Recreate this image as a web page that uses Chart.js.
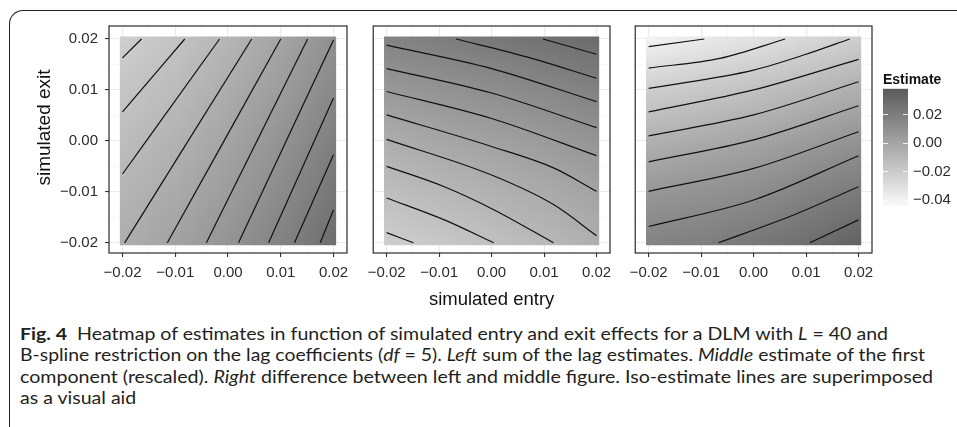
<!DOCTYPE html>
<html>
<head>
<meta charset="utf-8">
<script src="https://cdn.jsdelivr.net/npm/chart.js@4.4.1/dist/chart.umd.min.js"></script>
<style>
  body { margin: 0; background: #fff; width: 957px; height: 427px; overflow: hidden; position: relative; }
  canvas { position: absolute; }
  #frame { position: absolute; left: 9px; top: 10px; width: 1000px; height: 500px;
           border-top: 1.4px solid #231f20; border-left: 1.4px solid #231f20; border-top-left-radius: 14px; }
  .cap { position: absolute; left: 20px; font-family: Lato, "Noto Sans", sans-serif; font-size: 17.5px;
         line-height: 20px; color: #231f20; white-space: nowrap; transform-origin: 0 50%; }
</style>
</head>
<body>
<div id="frame"></div>
<canvas id="sumPanel" width="357" height="320" style="left:0;top:0"></canvas>
<canvas id="firstPanel" width="260" height="320" style="left:360px;top:0"></canvas>
<canvas id="diffPanel" width="260" height="320" style="left:622px;top:0"></canvas>
<canvas id="legendBar" width="74" height="159" style="left:883px;top:61px"></canvas>

<div class="cap" data-end="888" style="top:324px"><b>Fig. 4</b>&nbsp; Heatmap of estimates in function of simulated entry and exit effects for a DLM with <i>L</i> = 40 and</div>
<div class="cap" data-end="925" style="top:345px">B-spline restriction on the lag coefficients (<i>df</i> = 5). <i>Left</i> sum of the lag estimates. <i>Middle</i> estimate of the first</div>
<div class="cap" data-end="933" style="top:367px">component (rescaled). <i>Right</i> difference between left and middle figure. Iso-estimate lines are superimposed</div>
<div class="cap" style="top:388px">as a visual aid</div>

<script>
// grid of simulated entry (x) and exit (y) values the estimates are read at
const entryGrid = [-0.02, -0.01, 0, 0.01, 0.02];
const exitGrid = [0.02, 0.01, 0, -0.01, -0.02]; // top row first
const tileEdge = 0.0205;

const axisTicks = [-0.02, -0.01, 0, 0.01, 0.02];
const minorTicks = [-0.015, -0.005, 0.005, 0.015];
const legendTicks = [-0.04, -0.02, 0, 0.02];
const fillRange = [-0.0443, 0.038];

// estimates, one row per exit value (read off the grey levels / iso lines)
const sumLag = [
    [-0.0217, -0.0160, -0.0087, 0.0000, 0.0100],
    [-0.0170, -0.0118, -0.0044, 0.0043, 0.0143],
    [-0.0127, -0.0075, -0.0002, 0.0087, 0.0188],
    [-0.0087, -0.0033, 0.0041, 0.0130, 0.0234],
    [-0.0050, 0.0010, 0.0084, 0.0173, 0.0276]
];
const firstComp = [
    [0.0163, 0.0191, 0.0220, 0.0250, 0.0282],
    [0.0053, 0.0083, 0.0107, 0.0137, 0.0175],
    [-0.0053, -0.0017, 0.0010, 0.0041, 0.0076],
    [-0.0140, -0.0108, -0.0075, -0.0036, -0.0001],
    [-0.0215, -0.0184, -0.0151, -0.0108, -0.0058]
];
const diffEst = [
    [-0.0400, -0.0358, -0.0312, -0.0262, -0.0210],
    [-0.0210, -0.0180, -0.0145, -0.0097, -0.0051],
    [-0.0061, -0.0032, -0.0003, 0.0048, 0.0092],
    [0.0066, 0.0090, 0.0117, 0.0167, 0.0216],
    [0.0167, 0.0192, 0.0232, 0.0272, 0.0335]
];

// iso-estimate lines, [entry, exit] pairs
const sumLagLines = [
    [[-0.02, 0.0163], [-0.0164, 0.02]],
    [[-0.02, 0.0057], [-0.0082, 0.02]],
    [[-0.02, -0.0065], [-0.0016, 0.02]],
    [[-0.0196, -0.02], [0.0045, 0.02]],
    [[-0.0115, -0.02], [0.0100, 0.02]],
    [[-0.0041, -0.02], [0.0151, 0.02]],
    [[0.0020, -0.02], [0.0200, 0.0198]],
    [[0.0077, -0.02], [0.02, 0.0084]],
    [[0.0126, -0.02], [0.02, -0.0027]],
    [[0.0175, -0.02], [0.02, -0.0135]]
];
const firstCompLines = [
    [[0.0098, 0.02], [0.02, 0.0170]],
    [[-0.0068, 0.02], [0.0067, 0.0165], [0.02, 0.0123]],
    [[-0.02, 0.0188], [0, 0.0142], [0.02, 0.0077]],
    [[-0.02, 0.0142], [0, 0.0094], [0.02, 0.0026]],
    [[-0.02, 0.0097], [0, 0.0044], [0.02, -0.0029]],
    [[-0.02, 0.0051], [0, -0.0011], [0.0118, -0.0053], [0.02, -0.0099]],
    [[-0.02, 0.0003], [0, -0.0067], [0.0118, -0.0125], [0.02, -0.0186]],
    [[-0.02, -0.0050], [-0.009, -0.0090], [0.0004, -0.0135], [0.0118, -0.02]],
    [[-0.02, -0.0112], [-0.009, -0.0155], [0.0004, -0.02]],
    [[-0.02, -0.0180], [-0.0149, -0.02]]
];
const diffLines = [
    [[-0.02, 0.0185], [-0.0094, 0.02]],
    [[-0.02, 0.0143], [-0.0064, 0.0162], [0.006, 0.02]],
    [[-0.02, 0.0103], [0, 0.0139], [0.01, 0.0170], [0.0183, 0.02]],
    [[-0.02, 0.0057], [0, 0.0100], [0.02, 0.0160]],
    [[-0.02, 0.0010], [0, 0.0051], [0.02, 0.0116]],
    [[-0.02, -0.0041], [0, 0.0002], [0.02, 0.0069]],
    [[-0.02, -0.0099], [0, -0.0054], [0.02, 0.0018]],
    [[-0.02, -0.0168], [0, -0.0116], [0.02, -0.0029]],
    [[-0.0067, -0.02], [0.007, -0.0148], [0.02, -0.0090]],
    [[0.0107, -0.02], [0.02, -0.0155]]
];

const family = "'Liberation Sans', Arial, sans-serif";
Chart.defaults.font.family = family;

function greyLevel(v) {
    let t = (v - fillRange[0]) / (fillRange[1] - fillRange[0]);
    t = Math.max(0, Math.min(1, t));
    return Math.round(250 - t * (250 - 90));
}
function greyFor(v) {
    const g = greyLevel(v);
    return `rgb(${g},${g},${g})`;
}
const isMajor = v => axisTicks.some(t => Math.abs(t - v) < 1e-9);
const fmt = v => v.toFixed(2).replace('-', '\u2212');
const allTicks = axisTicks.concat(minorTicks).sort((a, b) => a - b);

// paints the estimate grid as smooth tiles behind the iso lines
const heatmap = {
    id: 'heatmap',
    beforeDatasetsDraw(chart, args, opts) {
        const grid = opts.grid;
        if (!grid) return;
        const { ctx, scales: { x, y } } = chart;
        const rows = grid.length, cols = grid[0].length;
        const off = document.createElement('canvas');
        off.width = cols; off.height = rows;
        const octx = off.getContext('2d');
        const img = octx.createImageData(cols, rows);
        grid.forEach((row, r) => row.forEach((v, c) => {
            const i = (r * cols + c) * 4, g = greyLevel(v);
            img.data[i] = img.data[i + 1] = img.data[i + 2] = g;
            img.data[i + 3] = 255;
        }));
        octx.putImageData(img, 0, 0);
        const half = (entryGrid[1] - entryGrid[0]) / 2;
        const x0 = x.getPixelForValue(entryGrid[0] - half), x1 = x.getPixelForValue(entryGrid[cols - 1] + half);
        const y0 = y.getPixelForValue(exitGrid[0] + half), y1 = y.getPixelForValue(exitGrid[rows - 1] - half);
        const cx0 = x.getPixelForValue(-tileEdge), cx1 = x.getPixelForValue(tileEdge);
        const cy0 = y.getPixelForValue(tileEdge), cy1 = y.getPixelForValue(-tileEdge);
        ctx.save();
        ctx.beginPath();
        ctx.rect(cx0, cy0, cx1 - cx0, cy1 - cy0);
        ctx.clip();
        ctx.imageSmoothingEnabled = true;
        ctx.imageSmoothingQuality = 'low';
        ctx.drawImage(off, x0, y0, x1 - x0, y1 - y0);
        ctx.restore();
    }
};

// panel border on all four sides
const panelFrame = {
    id: 'panelFrame',
    afterDatasetsDraw(chart) {
        const { ctx, chartArea: a } = chart;
        ctx.save();
        ctx.strokeStyle = '#2a2a2a';
        ctx.lineWidth = 1.2;
        ctx.strokeRect(a.left, a.top, a.right - a.left, a.bottom - a.top);
        ctx.restore();
    }
};

// rotated y title, sits a little above the panel middle like the printed one
const sideTitle = {
    id: 'sideTitle',
    afterDraw(chart, args, opts) {
        if (!opts.text) return;
        const { ctx, chartArea: a } = chart;
        ctx.save();
        ctx.translate(opts.x, (a.top + a.bottom) / 2 + opts.shift);
        ctx.rotate(-Math.PI / 2);
        ctx.font = `19px ${family}`;
        ctx.fillStyle = '#111';
        ctx.textAlign = 'center';
        ctx.textBaseline = 'middle';
        ctx.fillText(opts.text, 0, 0);
        ctx.restore();
    }
};

function gridOpts(withTicks) {
    return {
        color: c => (c.tick && isMajor(c.tick.value)) ? '#ebebeb' : '#f3f3f3',
        lineWidth: c => (c.tick && isMajor(c.tick.value)) ? 1.1 : 0.6,
        tickColor: c => (c.tick && isMajor(c.tick.value)) ? '#333' : 'rgba(0,0,0,0)',
        tickWidth: 1.1,
        tickLength: 4,
        drawTicks: withTicks
    };
}

function makePanel(id, grid, lines, showY, showXTitle) {
    const datasets = lines.map(line => ({
        data: line.map(([x, y]) => ({ x, y })),
        showLine: true,
        borderColor: '#111',
        borderWidth: 1.2,
        pointRadius: 0,
        cubicInterpolationMode: 'monotone',
        fill: false
    }));
    return new Chart(document.getElementById(id), {
        type: 'scatter',
        data: { datasets: datasets },
        options: {
            responsive: false,
            animation: false,
            events: [],
            layout: { padding: { left: showY ? 0 : 12, right: 10, top: 26, bottom: 0 } },
            plugins: {
                legend: { display: false },
                tooltip: { enabled: false },
                heatmap: { grid: grid },
                sideTitle: showY ? { text: 'simulated exit', x: 45, shift: -12 } : {}
            },
            scales: {
                x: {
                    type: 'linear',
                    min: -0.02256,
                    max: 0.02256,
                    afterBuildTicks: s => { s.ticks = allTicks.map(v => ({ value: v })); },
                    afterFit: s => { s.height = 67; },
                    ticks: {
                        callback: v => isMajor(v) ? fmt(v) : '',
                        autoSkip: false, maxRotation: 0,
                        font: { size: 15 }, color: '#2b2b2b', padding: 7
                    },
                    grid: gridOpts(true),
                    border: { display: false },
                    title: {
                        display: showXTitle,
                        text: 'simulated entry',
                        font: { size: 18.5 }, color: '#111',
                        padding: { top: 0, bottom: 9 }
                    }
                },
                y: {
                    type: 'linear',
                    min: -0.0220,
                    max: 0.02255,
                    afterBuildTicks: s => { s.ticks = allTicks.map(v => ({ value: v })); },
                    afterFit: s => { s.width = showY ? 109 : 0; },
                    ticks: {
                        display: showY,
                        callback: v => isMajor(v) ? fmt(v) : '',
                        autoSkip: false,
                        font: { size: 15 }, color: '#2b2b2b', padding: 7
                    },
                    grid: gridOpts(showY),
                    border: { display: false }
                }
            }
        },
        plugins: [heatmap, panelFrame, sideTitle]
    });
}

makePanel('sumPanel', sumLag, sumLagLines, true, false);
makePanel('firstPanel', firstComp, firstCompLines, false, true);
makePanel('diffPanel', diffEst, diffLines, false, false);

// colour bar legend
const colorbar = {
    id: 'colorbar',
    beforeDatasetsDraw(chart) {
        const { ctx, chartArea: a, scales: { y } } = chart;
        const g = ctx.createLinearGradient(0, y.getPixelForValue(fillRange[0]), 0, y.getPixelForValue(fillRange[1]));
        g.addColorStop(0, greyFor(fillRange[0]));
        g.addColorStop(1, greyFor(fillRange[1]));
        ctx.save();
        ctx.fillStyle = g;
        ctx.fillRect(a.left, a.top, a.right - a.left, a.bottom - a.top);
        ctx.strokeStyle = 'rgba(255,255,255,0.85)';
        ctx.lineWidth = 1;
        legendTicks.forEach(v => {
            const py = Math.round(y.getPixelForValue(v)) + 0.5;
            ctx.beginPath();
            ctx.moveTo(a.left, py); ctx.lineTo(a.left + 5, py);
            ctx.moveTo(a.right - 5, py); ctx.lineTo(a.right, py);
            ctx.stroke();
        });
        ctx.restore();
    }
};

new Chart(document.getElementById('legendBar'), {
    type: 'scatter',
    data: { datasets: [] },
    options: {
        responsive: false,
        animation: false,
        events: [],
        layout: { padding: { left: 0, right: 0, top: 0, bottom: 6 } },
        plugins: {
            legend: { display: false },
            tooltip: { enabled: false },
            title: {
                display: true, text: 'Estimate', align: 'start', color: '#111',
                font: { size: 14, weight: 'bold' },
                padding: { top: 11, bottom: 0 }
            }
        },
        scales: {
            x: { display: false, min: 0, max: 1 },
            y: {
                position: 'right',
                min: fillRange[0],
                max: fillRange[1],
                afterBuildTicks: s => { s.ticks = legendTicks.map(v => ({ value: v })); },
                afterFit: s => { s.width = 49; },
                ticks: { callback: v => fmt(v), font: { size: 15 }, color: '#2b2b2b', padding: 5 },
                grid: { display: false, drawTicks: false },
                border: { display: false }
            }
        }
    },
    plugins: [colorbar]
});

// squeeze each caption line so it ends where the printed line does
document.querySelectorAll('.cap[data-end]').forEach(el => {
    const w = el.getBoundingClientRect().width;
    const target = Number(el.dataset.end) - 20;
    el.style.transform = `scaleX(${(target / w).toFixed(4)})`;
});
const firstCap = document.querySelector('.cap[data-end]');
document.querySelectorAll('.cap:not([data-end])').forEach(el => {
    el.style.transform = firstCap.style.transform;
});
</script>
</body>
</html>
